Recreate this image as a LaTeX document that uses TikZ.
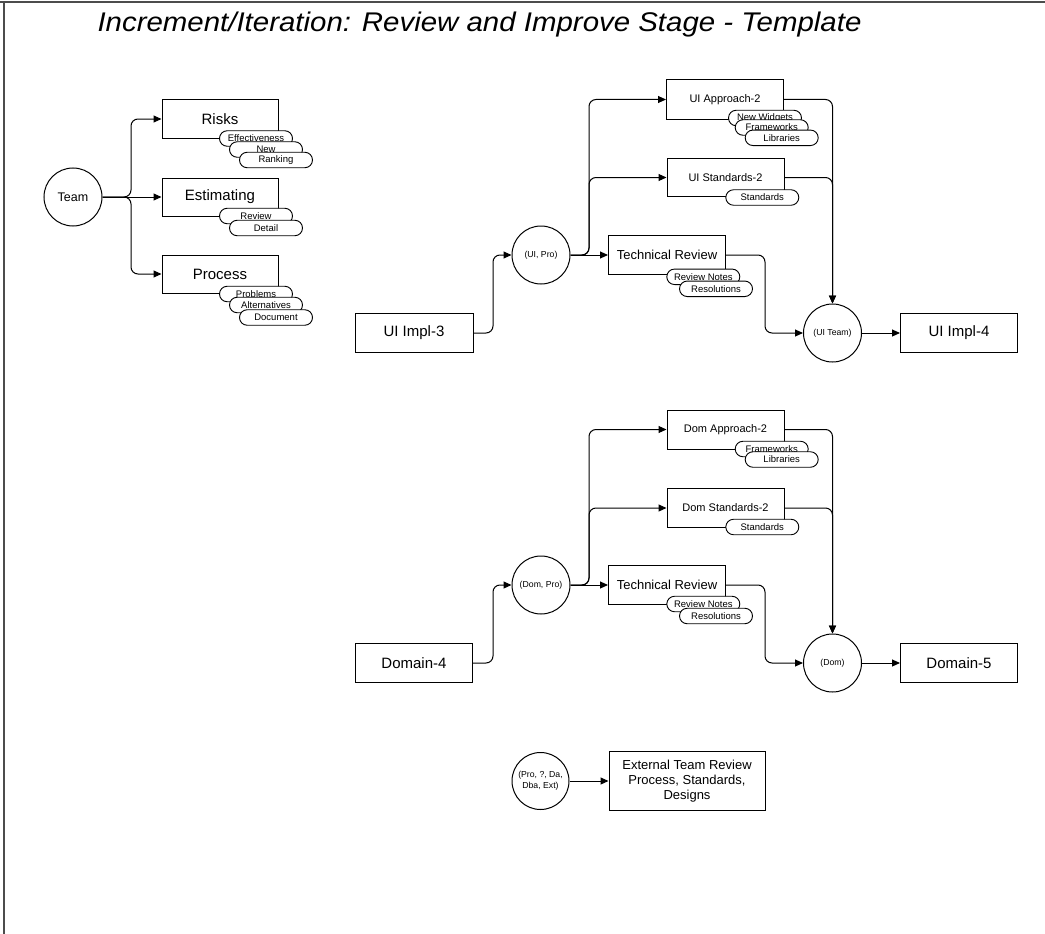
\documentclass[tikz,border=0pt]{standalone}
\usepackage{fontspec}
\setmainfont{Liberation Sans}
\usetikzlibrary{arrows.meta,shapes.misc}

\newcommand\txtsize[2]{\fontsize{#1pt}{#2pt}\selectfont}

\tikzset{
  frameline/.style={line width=1.5pt, draw=black!70},
  box/.style={draw, line width=1pt, fill=white, minimum width=117pt,
    minimum height=38.5pt, inner sep=2pt, align=center},
  bubble/.style={draw, circle, line width=1pt, fill=white, minimum size=58pt,
    inner sep=0pt, align=center},
  pill/.style={draw, rounded rectangle, line width=0.9pt, fill=white,
    minimum width=73pt, minimum height=15.5pt, inner sep=0pt,
    font=\txtsize{9.5}{11}},
  conn/.style={line width=1pt, rounded corners=7pt},
  arr/.style={-{Triangle[length=8pt,width=7pt]}},
  bigtext/.style={font=\txtsize{15}{18}},
  midtext/.style={font=\txtsize{13}{15}},
  smalltext/.style={font=\txtsize{11}{13}},
  tinytext/.style={font=\txtsize{8.7}{11}},
}

\begin{document}
\begin{tikzpicture}[x=1pt,y=-1pt]
\useasboundingbox (0,0) rectangle (1045,934);

% page frame (top and left edges only)
\draw[frameline] (0,2) -- (1045,2);
\draw[frameline] (4,2) -- (4,934);

% title
\node[font=\txtsize{27}{32}\itshape, anchor=base, xscale=1.09, inner sep=0pt] (title)
  at (479.5,31.5) {Increment/Iteration: Review and Improve Stage - Template};

% ---------------- team block ----------------
\coordinate (tj) at (131,197);
\node[bubble, font=\txtsize{12.5}{15}] (team) at (73,197) {Team};
\node[box, bigtext, minimum width=116pt, minimum height=38pt] (risks) at (220,119) {Risks};
\node[box, bigtext, minimum width=116pt, minimum height=38pt] (estim) at (220,197) {Estimating};
\node[box, bigtext, minimum width=116pt, minimum height=38pt] (proc) at (220,274) {Process};

\node[pill] (r1) at (256,138.5) {Effectiveness};
\node[pill] (r2) at (266,149.5) {New};
\node[pill] (r3) at (276,160) {Ranking};
\node[pill] (e1) at (256,216) {Review};
\node[pill] (e2) at (266,228) {Detail};
\node[pill] (p1) at (256,294) {Problems};
\node[pill] (p2) at (266,305) {Alternatives};
\node[pill] (p3) at (276,317.5) {Document};

\draw[conn, arr] (team.east) -- (tj) |- (risks.west);
\draw[conn, arr] (team.east) -- (estim.west);
\draw[conn, arr] (team.east) -- (tj) |- (proc.west);

% ---------------- UI block ----------------
\coordinate (uia) at (493,333);
\coordinate (uib) at (589,255);
\coordinate (uic) at (765,255);

\node[box, bigtext, minimum width=118pt, minimum height=39pt] (ui3) at (414,333) {UI Impl-3};
\node[bubble, tinytext] (uipro) at (541,255) {(UI, Pro)};
\node[box, smalltext, minimum height=39pt] (uiap) at (725,99.5) {UI Approach-2};
\node[box, smalltext] (uist) at (725.5,177.5) {UI Standards-2};
\node[box, midtext] (uitr) at (667,255) {Technical Review};
\node[bubble, tinytext] (uiteam) at (832.5,333) {(UI Team)};
\node[box, bigtext, minimum height=39pt] (ui4) at (959,333) {UI Impl-4};

\node[pill] (uiap1) at (765,118) {New Widgets};
\node[pill] (uiap2) at (771.7,127.5) {Frameworks};
\node[pill] (uiap3) at (781.7,137.8) {Libraries};
\node[pill] (uist1) at (762.3,197.5) {Standards};
\node[pill] (uitr1) at (703.3,276.8) {Review Notes};
\node[pill] (uitr2) at (716,288.8) {Resolutions};

\draw[conn, arr] (ui3.east) -- (uia) |- (uipro.west);
\draw[conn, arr] (uipro.east) -- (uitr.west);
\draw[conn, arr] (uipro.east) -- (uib) |- (uiap.west);
\draw[conn, arr] (uipro.east) -- (uib) |- (uist.west);
\draw[conn, arr] (uiap.east) -| (uiteam.north);
\draw[conn, arr] (uist.east) -| (uiteam.north);
\draw[conn, arr] (uitr.east) -- (uic) |- (uiteam.west);
\draw[conn, arr] (uiteam.east) -- (ui4.west);

% ---------------- domain block ----------------
\coordinate (doa) at (493,663);
\coordinate (dob) at (589,585);
\coordinate (doc) at (765,585);

\node[box, bigtext, minimum height=39pt] (dom4) at (414,663) {Domain-4};
\node[bubble, tinytext] (dompro) at (541,585) {(Dom, Pro)};
\node[box, smalltext, minimum height=39pt] (domap) at (725.5,429.5) {Dom Approach-2};
\node[box, smalltext, minimum height=39pt] (domst) at (725.5,508) {Dom Standards-2};
\node[box, midtext] (domtr) at (667,585) {Technical Review};
\node[bubble, tinytext] (dom) at (832.5,663) {(Dom)};
\node[box, bigtext, minimum height=39pt] (dom5) at (959,663) {Domain-5};

\node[pill] (domap1) at (771.7,449) {Frameworks};
\node[pill] (domap2) at (781.7,459.5) {Libraries};
\node[pill] (domst1) at (762.3,527) {Standards};
\node[pill] (domtr1) at (703.3,604) {Review Notes};
\node[pill] (domtr2) at (716,616) {Resolutions};

\draw[conn, arr] (dom4.east) -- (doa) |- (dompro.west);
\draw[conn, arr] (dompro.east) -- (domtr.west);
\draw[conn, arr] (dompro.east) -- (dob) |- (domap.west);
\draw[conn, arr] (dompro.east) -- (dob) |- (domst.west);
\draw[conn, arr] (domap.east) -| (dom.north);
\draw[conn, arr] (domst.east) -| (dom.north);
\draw[conn, arr] (domtr.east) -- (doc) |- (dom.west);
\draw[conn, arr] (dom.east) -- (dom5.west);

% ---------------- external review ----------------
\node[bubble, tinytext, minimum size=57pt] (ext) at (540.5,781) {(Pro, ?, Da,\\Dba, Ext)};
\node[box, midtext, minimum width=156pt, minimum height=59pt] (extbox) at (687,781)
  {External Team Review\\Process, Standards,\\Designs};
\draw[conn, arr] (ext.east) -- (extbox.west);

\end{tikzpicture}
\end{document}
